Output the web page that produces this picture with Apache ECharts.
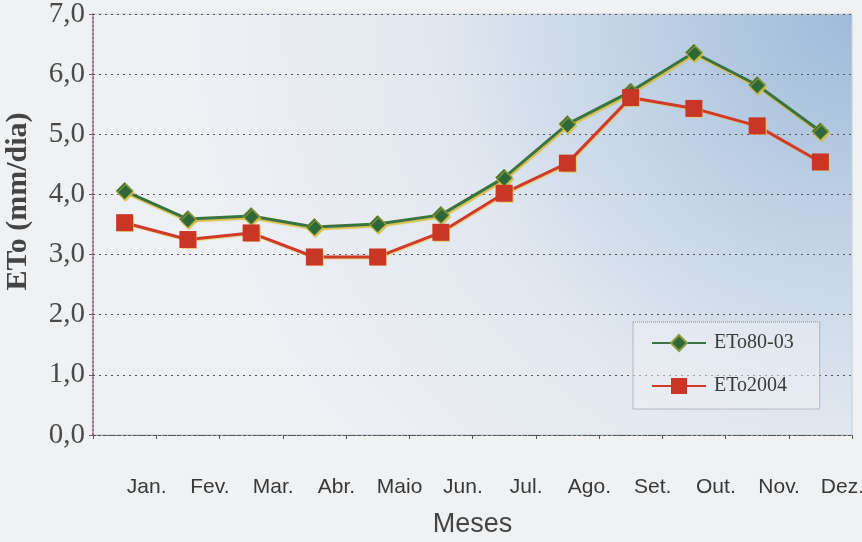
<!DOCTYPE html>
<html>
<head>
<meta charset="utf-8">
<script src="https://cdn.jsdelivr.net/npm/echarts@6/dist/echarts.min.js"></script>
<style>
html,body{margin:0;padding:0;background:#eff1f3;}
#chart{width:862px;height:542px;}
</style>
</head>
<body>
<div id="chart"></div>
<script>
const months = ['Jan.', 'Fev.', 'Mar.', 'Abr.', 'Maio', 'Jun.', 'Jul.', 'Ago.', 'Set.', 'Out.', 'Nov.', 'Dez.'];
const eto8003 = [4.06, 3.59, 3.64, 3.46, 3.51, 3.66, 4.28, 5.17, 5.71, 6.36, 5.82, 5.05];
const eto2004 = [3.53, 3.25, 3.36, 2.96, 2.96, 3.37, 4.02, 4.52, 5.61, 5.43, 5.14, 4.54];
const seriesNames = ['ETo80-03', 'ETo2004'];
const yTicks = [0, 1, 2, 3, 4, 5, 6, 7];

const chart = echarts.init(document.getElementById('chart'));
chart.setOption({
  backgroundColor: '#eff1f3',
  animation: false,
  grid: {
    left: 93, right: 10, top: 14, bottom: 107,
    outerBoundsMode: 'none',
    containLabel: false,
    show: true,
    borderColor: '#c9ced6',
    borderWidth: 1,
    backgroundColor: {
      type: 'radial', x: 1, y: 0, r: 1.6,
      colorStops: [
        { offset: 0, color: '#9fbad9' },
        { offset: 0.2, color: '#b3c9e1' },
        { offset: 0.36, color: '#c5d5e7' },
        { offset: 0.62, color: '#e2e8f0' },
        { offset: 1, color: '#eef0f4' }
      ]
    }
  },
  legend: {
    orient: 'vertical',
    left: 633, top: 322,
    padding: [11, 26, 13, 18],
    itemGap: 23,
    itemWidth: 54, itemHeight: 20,
    borderColor: '#8a8a8a', borderWidth: 1, borderType: 'dotted',
    backgroundColor: 'rgba(240,242,245,0.5)',
    textStyle: { fontFamily: 'Liberation Serif', fontSize: 20, color: '#3a3a3a', padding: [0, 0, 0, 3] },
    data: seriesNames
  },
  xAxis: {
    type: 'category',
    data: months,
    boundaryGap: true,
    name: 'Meses',
    nameLocation: 'middle',
    nameGap: 76,
    nameTextStyle: { fontFamily: 'Liberation Sans', fontSize: 27, color: '#444' },
    axisLine: { lineStyle: { color: '#555', type: [3, 2], width: 1.2 } },
    axisTick: { show: true, length: 4, lineStyle: { color: '#555' } },
    axisLabel: {
      fontFamily: 'Liberation Sans', fontSize: 21, color: '#383838',
      margin: 42, padding: [0, 0, 0, 44]
    },
    splitLine: { show: false }
  },
  yAxis: {
    type: 'value',
    min: 0, max: 7, interval: 1,
    name: 'ETo (mm/dia)',
    nameLocation: 'middle',
    nameGap: 60,
    nameTextStyle: { fontFamily: 'Liberation Serif', fontSize: 30, fontWeight: 'bold', color: '#444', padding: [0, 0, 0, 46] },
    axisLine: { show: true, lineStyle: { color: '#8c4a5e', type: [2, 2], width: 1.5 } },
    axisTick: { show: true, length: 4, lineStyle: { color: '#666' } },
    axisLabel: {
      fontFamily: 'Liberation Serif', fontSize: 29, color: '#4a4a4a', margin: 8,
      formatter: v => yTicks.includes(v) ? v.toFixed(1).replace('.', ',') : ''
    },
    splitLine: { show: true, lineStyle: { color: '#555', type: [2, 4], width: 1.2 } }
  },
  series: [
    {
      name: seriesNames[0],
      type: 'line',
      data: eto8003,
      symbol: 'diamond',
      symbolSize: 17,
      lineStyle: { color: '#3b7242', width: 3, shadowColor: 'rgba(215,190,60,0.9)', shadowOffsetX: 1, shadowOffsetY: 2, shadowBlur: 1 },
      itemStyle: { color: '#2f6838', borderColor: '#8a9a40', borderWidth: 1, shadowColor: 'rgba(215,190,60,0.9)', shadowOffsetX: 1, shadowOffsetY: 2, shadowBlur: 1 }
    },
    {
      name: seriesNames[1],
      type: 'line',
      data: eto2004,
      symbol: 'rect',
      symbolSize: 17,
      lineStyle: { color: '#d03a2a', width: 3, shadowColor: 'rgba(230,200,80,0.7)', shadowOffsetX: 1, shadowOffsetY: 1, shadowBlur: 1 },
      itemStyle: { color: '#c93626', shadowColor: 'rgba(230,200,80,0.7)', shadowOffsetX: 1, shadowOffsetY: 1, shadowBlur: 1 }
    }
  ]
});
</script>
</body>
</html>
